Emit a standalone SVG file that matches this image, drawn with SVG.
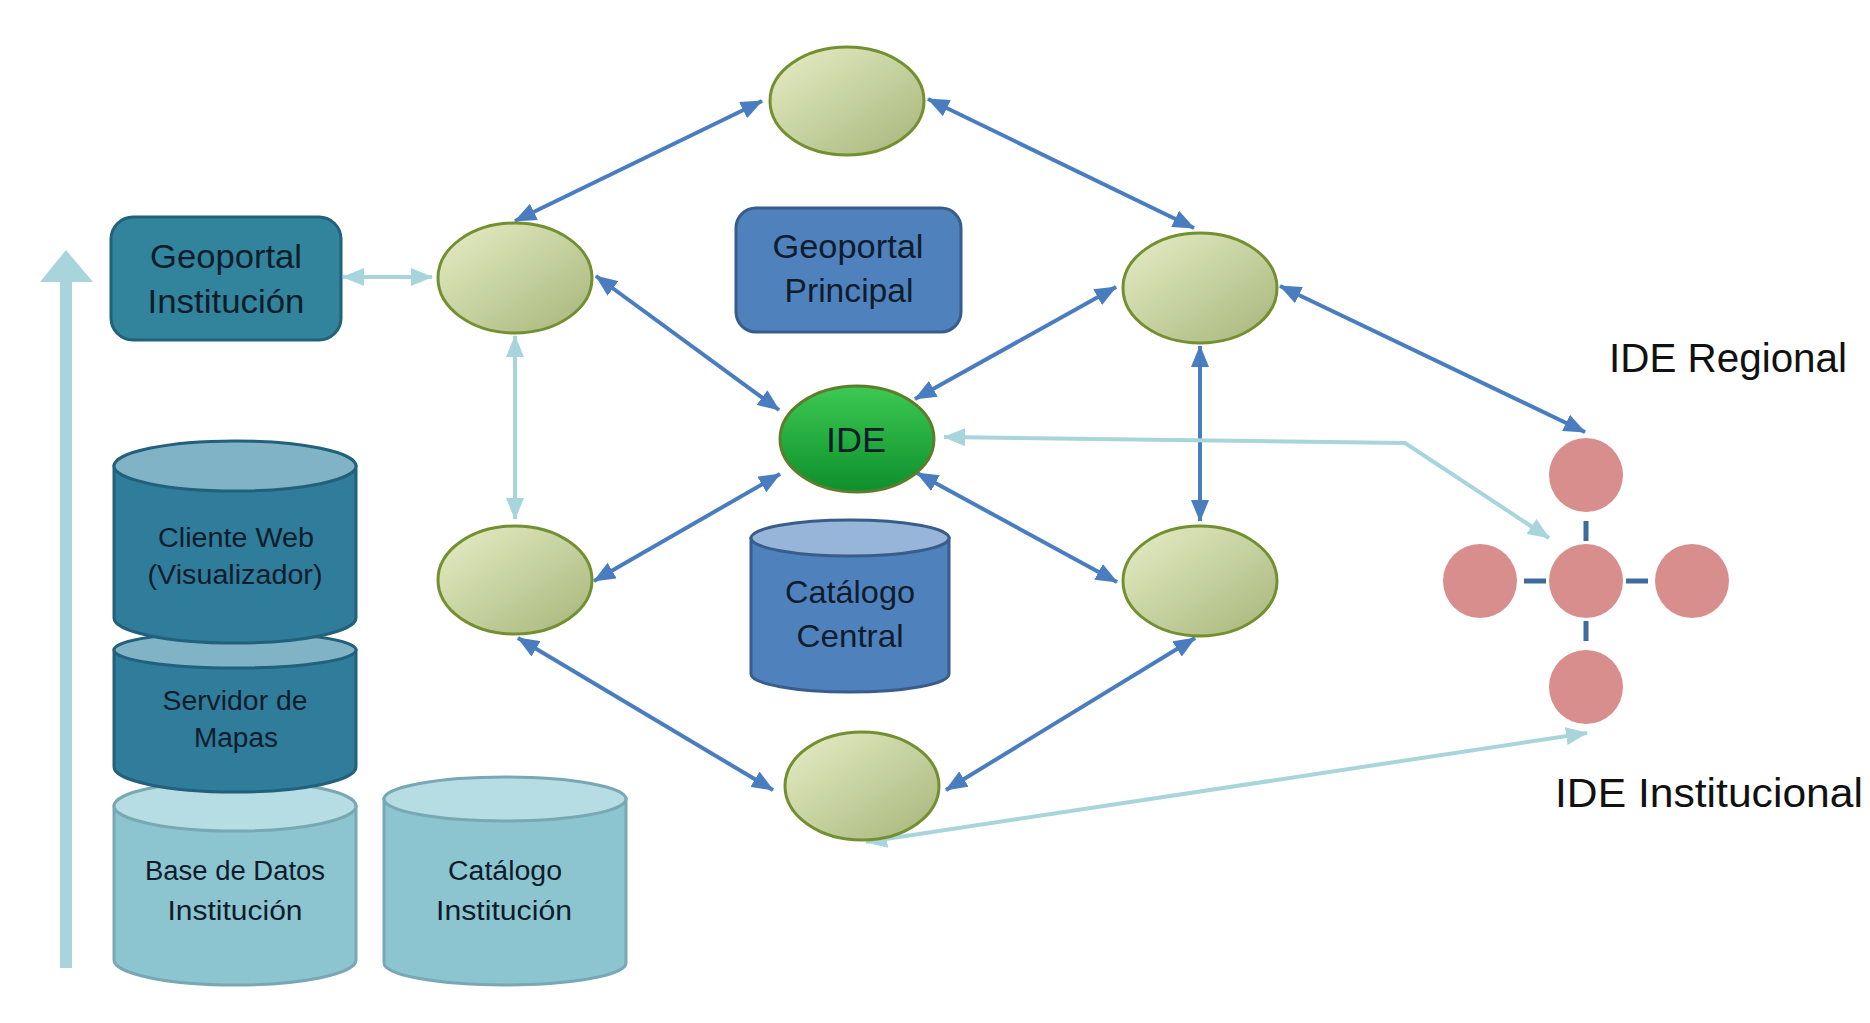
<svg xmlns="http://www.w3.org/2000/svg" width="1870" height="1023" viewBox="0 0 1870 1023">
  <defs>
    <linearGradient id="gOval" x1="0" y1="0" x2="1" y2="1">
      <stop offset="0" stop-color="#e6eec6"/>
      <stop offset="1" stop-color="#a6b57a"/>
    </linearGradient>
    <linearGradient id="gIDE" x1="0" y1="0" x2="0" y2="1">
      <stop offset="0" stop-color="#3cc952"/>
      <stop offset="1" stop-color="#0e8f2c"/>
    </linearGradient>
    <marker id="ahB" viewBox="0 0 22 18" markerWidth="22" markerHeight="18" refX="21" refY="9" orient="auto-start-reverse" markerUnits="userSpaceOnUse">
      <path d="M0,0 L22,9 L0,18 z" fill="#4a7dc0"/>
    </marker>
    <marker id="ahT" viewBox="0 0 22 18" markerWidth="22" markerHeight="18" refX="21" refY="9" orient="auto-start-reverse" markerUnits="userSpaceOnUse">
      <path d="M0,0 L22,9 L0,18 z" fill="#a8d5db"/>
    </marker>
  </defs>
  <style>
    .oval { fill: url(#gOval); stroke: #739030; stroke-width: 3; }
    .ide { fill: url(#gIDE); stroke: #5d7d2c; stroke-width: 3; }
    .lbl { font-family: "Liberation Sans", Arial, sans-serif; fill: #0e1c2c; text-anchor: middle; }
    .big { font-family: "Liberation Sans", Arial, sans-serif; fill: #111111; }
    .blue { fill: none; stroke: #4a7dc0; stroke-width: 4; marker-start: url(#ahB); marker-end: url(#ahB); }
    .teal { fill: none; stroke: #a8d5db; stroke-width: 4; marker-start: url(#ahT); marker-end: url(#ahT); }
    .pink { fill: #d98e8e; }
    .dash { stroke: #3f6b9c; stroke-width: 5; }
    .darkBody { fill: #2f7c9b; stroke: #23607b; stroke-width: 3; }
    .darkTop { fill: #80b3c5; stroke: #23607b; stroke-width: 3; }
    .lightBody { fill: #8cc4cf; stroke: #78a8b4; stroke-width: 3; }
    .lightTop { fill: #b5dde3; stroke: #78a8b4; stroke-width: 3; }
    .cenBody { fill: #4f81bd; stroke: #385d8a; stroke-width: 3; }
    .cenTop { fill: #97b5d9; stroke: #385d8a; stroke-width: 3; }
  </style>
  <rect width="1870" height="1023" fill="#ffffff"/>

  <!-- big vertical arrow -->
  <g id="vertical-arrow">
    <rect x="60" y="278" width="12" height="690" fill="#a8d5db"/>
    <polygon points="40,282 66,250 93,282" fill="#a8d5db"/>
  </g>

  <!-- connectors -->
  <g id="connectors">
    <line class="blue" x1="515" y1="221" x2="762" y2="101"/>
    <line class="blue" x1="928" y1="99" x2="1194" y2="228"/>
    <line class="blue" x1="596" y1="276" x2="779" y2="410"/>
    <line class="blue" x1="1116" y1="287" x2="915" y2="399"/>
    <line class="blue" x1="780" y1="474" x2="594" y2="581"/>
    <line class="blue" x1="917" y1="473" x2="1117" y2="582"/>
    <line class="blue" x1="518" y1="638" x2="773" y2="790"/>
    <line class="blue" x1="1195" y1="638" x2="946" y2="790"/>
    <line class="blue" x1="1200" y1="346" x2="1200" y2="521"/>
    <line class="blue" x1="1280" y1="286" x2="1585" y2="432"/>
    <line class="teal" x1="343" y1="277" x2="432" y2="277"/>
    <line class="teal" x1="515" y1="336" x2="515" y2="519"/>
    <polyline class="teal" points="944,437 1405,443 1549,538"/>
    <line class="teal" x1="866" y1="842" x2="1587" y2="733"/>
  </g>

  <g id="geoportal-institucion">
    <rect x="111" y="217" width="230" height="123" rx="22" fill="#31849b" stroke="#22617a" stroke-width="3"/>
    <text class="lbl" x="226" y="268" font-size="33" textLength="152" lengthAdjust="spacingAndGlyphs">Geoportal</text>
    <text class="lbl" x="226" y="313" font-size="33" textLength="157" lengthAdjust="spacingAndGlyphs">Institución</text>
  </g>

  <g id="geoportal-principal">
    <rect x="736" y="208" width="225" height="124" rx="20" fill="#4f81bd" stroke="#385d8a" stroke-width="3"/>
    <text class="lbl" x="848" y="258" font-size="33" textLength="151" lengthAdjust="spacingAndGlyphs">Geoportal</text>
    <text class="lbl" x="849" y="302" font-size="33" textLength="129" lengthAdjust="spacingAndGlyphs">Principal</text>
  </g>

  <g id="node-top"><ellipse class="oval" cx="847" cy="101" rx="77" ry="54"/></g>
  <g id="node-upper-left"><ellipse class="oval" cx="515" cy="278" rx="77" ry="55"/></g>
  <g id="node-upper-right"><ellipse class="oval" cx="1200" cy="288" rx="77" ry="55"/></g>
  <g id="node-lower-left"><ellipse class="oval" cx="515" cy="580" rx="77" ry="54"/></g>
  <g id="node-lower-right"><ellipse class="oval" cx="1200" cy="581" rx="77" ry="55"/></g>
  <g id="node-bottom"><ellipse class="oval" cx="862" cy="786" rx="77" ry="54"/></g>

  <g id="ide">
    <ellipse class="ide" cx="857" cy="439" rx="77" ry="53"/>
    <text class="lbl" x="856" y="452" font-size="35" textLength="60" lengthAdjust="spacingAndGlyphs">IDE</text>
  </g>

  <g id="catalogo-central">
    <path class="cenBody" d="M751,538 L751,674 A99,18 0 0 0 949,674 L949,538 Z"/>
    <ellipse class="cenTop" cx="850" cy="538" rx="99" ry="18"/>
    <text class="lbl" x="850" y="603" font-size="32" textLength="130" lengthAdjust="spacingAndGlyphs">Catálogo</text>
    <text class="lbl" x="850" y="647" font-size="32" textLength="107" lengthAdjust="spacingAndGlyphs">Central</text>
  </g>

  <g id="base-de-datos">
    <path class="lightBody" d="M114,806 L114,960 A121,25 0 0 0 356,960 L356,806 Z"/>
    <ellipse class="lightTop" cx="235" cy="806" rx="121" ry="25"/>
    <text class="lbl" x="235" y="880" font-size="27" textLength="180" lengthAdjust="spacingAndGlyphs">Base de Datos</text>
    <text class="lbl" x="235" y="920" font-size="27" textLength="135" lengthAdjust="spacingAndGlyphs">Institución</text>
  </g>

  <g id="servidor-de-mapas">
    <path class="darkBody" d="M114,650 L114,767 A121,25 0 0 0 356,767 L356,650 Z"/>
    <ellipse class="darkTop" cx="235" cy="650" rx="121" ry="18"/>
    <text class="lbl" x="235" y="710" font-size="27" textLength="145" lengthAdjust="spacingAndGlyphs">Servidor de</text>
    <text class="lbl" x="236" y="747" font-size="27" textLength="84" lengthAdjust="spacingAndGlyphs">Mapas</text>
  </g>

  <g id="cliente-web">
    <path class="darkBody" d="M114,466 L114,618 A121,25 0 0 0 356,618 L356,466 Z"/>
    <ellipse class="darkTop" cx="235" cy="466" rx="121" ry="25"/>
    <text class="lbl" x="236" y="547" font-size="27" textLength="156" lengthAdjust="spacingAndGlyphs">Cliente Web</text>
    <text class="lbl" x="235" y="584" font-size="27" textLength="175" lengthAdjust="spacingAndGlyphs">(Visualizador)</text>
  </g>

  <g id="catalogo-institucion">
    <path class="lightBody" d="M384,799 L384,963 A121,22 0 0 0 626,963 L626,799 Z"/>
    <ellipse class="lightTop" cx="505" cy="799" rx="121" ry="22"/>
    <text class="lbl" x="505" y="880" font-size="27" textLength="114" lengthAdjust="spacingAndGlyphs">Catálogo</text>
    <text class="lbl" x="504" y="920" font-size="27" textLength="136" lengthAdjust="spacingAndGlyphs">Institución</text>
  </g>

  <g id="ide-institucional-cluster">
    <line class="dash" x1="1586" y1="521" x2="1586" y2="541"/>
    <line class="dash" x1="1586" y1="621" x2="1586" y2="641"/>
    <line class="dash" x1="1524" y1="581" x2="1546" y2="581"/>
    <line class="dash" x1="1626" y1="581" x2="1648" y2="581"/>
    <circle class="pink" cx="1586" cy="475" r="37"/>
    <circle class="pink" cx="1586" cy="581" r="37"/>
    <circle class="pink" cx="1480" cy="581" r="37"/>
    <circle class="pink" cx="1692" cy="581" r="37"/>
    <circle class="pink" cx="1586" cy="687" r="37"/>
  </g>

  <g id="labels">
    <text class="big" x="1609" y="372" font-size="40" textLength="238" lengthAdjust="spacingAndGlyphs">IDE Regional</text>
    <text class="big" x="1555" y="807" font-size="40" textLength="308" lengthAdjust="spacingAndGlyphs">IDE Institucional</text>
  </g>
</svg>
